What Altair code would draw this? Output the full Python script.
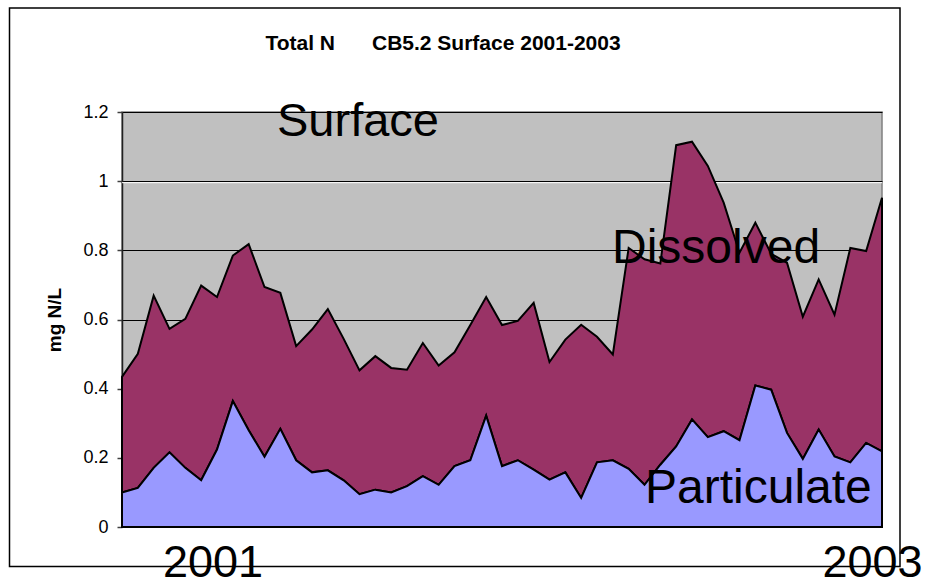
import altair as alt
import pandas as pd

# Sample sequence along the 2001-2003 record
sample = list(range(49))

# Particulate N (mg N/L), bottom layer
particulate = [0.100, 0.113, 0.171, 0.216, 0.171, 0.135, 0.224, 0.364, 0.280, 0.203,
               0.284, 0.193, 0.158, 0.164, 0.135, 0.095, 0.108, 0.100, 0.118, 0.147,
               0.122, 0.176, 0.193, 0.322, 0.176, 0.193, 0.166, 0.137, 0.158, 0.084,
               0.187, 0.193, 0.168, 0.122, 0.180, 0.233, 0.311, 0.260, 0.277, 0.251,
               0.409, 0.397, 0.272, 0.197, 0.282, 0.204, 0.187, 0.243, 0.219]

# Total N (mg N/L) = particulate + dissolved, top of the stack
total = [0.434, 0.501, 0.669, 0.573, 0.602, 0.698, 0.665, 0.785, 0.818, 0.694,
         0.677, 0.523, 0.571, 0.630, 0.544, 0.453, 0.494, 0.460, 0.455, 0.532,
         0.467, 0.505, 0.584, 0.665, 0.584, 0.596, 0.648, 0.477, 0.542, 0.585,
         0.550, 0.499, 0.807, 0.774, 0.762, 1.104, 1.114, 1.044, 0.938, 0.793,
         0.880, 0.790, 0.764, 0.608, 0.716, 0.614, 0.807, 0.798, 0.952]

y_ticks = [0, 0.2, 0.4, 0.6, 0.8, 1.0, 1.2]
series_labels = ["Surface", "Dissolved", "Particulate"]
year_labels = ["2001", "2003"]
title_parts = ["Total N", "CB5.2 Surface 2001-2003"]

df = pd.DataFrame({"sample": sample, "particulate": particulate, "total": total})

FONT = "Liberation Sans"
W, H = 760, 415

x_enc = alt.X("sample:Q", scale=alt.Scale(domain=[0, 48], nice=False, zero=False), axis=None)
y_scale = alt.Scale(domain=[0, 1.2], nice=False)
y_axis = alt.Axis(
    title="mg N/L", values=y_ticks, format="~g",
    grid=True, gridColor="black", gridWidth=1,
    domainColor="#202020", domainWidth=1.5,
    tickColor="#404040", tickSize=5, tickWidth=1.5,
    labelFont=FONT, labelFontSize=18, labelColor="black", labelPadding=9,
    titleFont=FONT, titleFontSize=19, titleFontWeight="bold", titleColor="black",
    titleX=-68, titleY=H / 2, titleAngle=-90, titleBaseline="middle", titleAlign="center",
)


def one_row(value):
    return pd.DataFrame({"label": [value]})


# Outer chart frame
frame = alt.Chart(one_row("")).mark_rect(
    filled=False, stroke="black", strokeWidth=1.5
).encode(
    x=alt.value(-112.5), x2=alt.value(778), y=alt.value(-104), y2=alt.value(454.5)
)

# Light edge under the 1.0 gridline
edge = alt.Chart(pd.DataFrame({"v": [1.0]})).mark_rule(
    color="white", strokeWidth=1, yOffset=1.5
).encode(y=alt.Y("v:Q", scale=y_scale, axis=y_axis))

dissolved_area = alt.Chart(df).mark_area(
    fill="#993366", stroke="black", strokeWidth=2, strokeJoin="miter"
).encode(
    x=x_enc,
    y=alt.Y("total:Q", scale=y_scale, axis=y_axis),
    y2="particulate:Q",
)

particulate_area = alt.Chart(df).mark_area(
    fill="#9999FF", stroke="black", strokeWidth=2, strokeJoin="miter"
).encode(
    x=x_enc,
    y=alt.Y("particulate:Q", scale=y_scale, axis=y_axis),
    y2=alt.datum(0),
)


def label(text, x, y, size, align="left", weight="normal"):
    return alt.Chart(one_row(text)).mark_text(
        align=align, baseline="alphabetic", font=FONT, fontSize=size,
        fontWeight=weight, color="black"
    ).encode(x=alt.value(x), y=alt.value(y), text="label:N")


texts = [
    label(series_labels[0], 155, 24, 47),
    label(series_labels[1], 490, 151, 48),
    label(series_labels[2], 523, 391, 48),
    label(year_labels[0], 91, 465, 45, align="center"),
    label(year_labels[1], 750.5, 465, 45, align="center"),
    label(title_parts[0], 213, -62, 21, align="right", weight="bold"),
    label(title_parts[1], 250, -62, 21, align="left", weight="bold"),
]

chart = alt.layer(
    frame, edge, dissolved_area, particulate_area, *texts
).properties(
    width=W, height=H,
    autosize=alt.AutoSizeParams(type="none"),
    padding={"left": 122, "top": 112, "right": 44, "bottom": 60},
    background="white",
).configure_view(
    fill="#C0C0C0", stroke="#808080", strokeWidth=1.5
)

chart.save("out.html", embed_options={"renderer": "svg", "actions": False})
